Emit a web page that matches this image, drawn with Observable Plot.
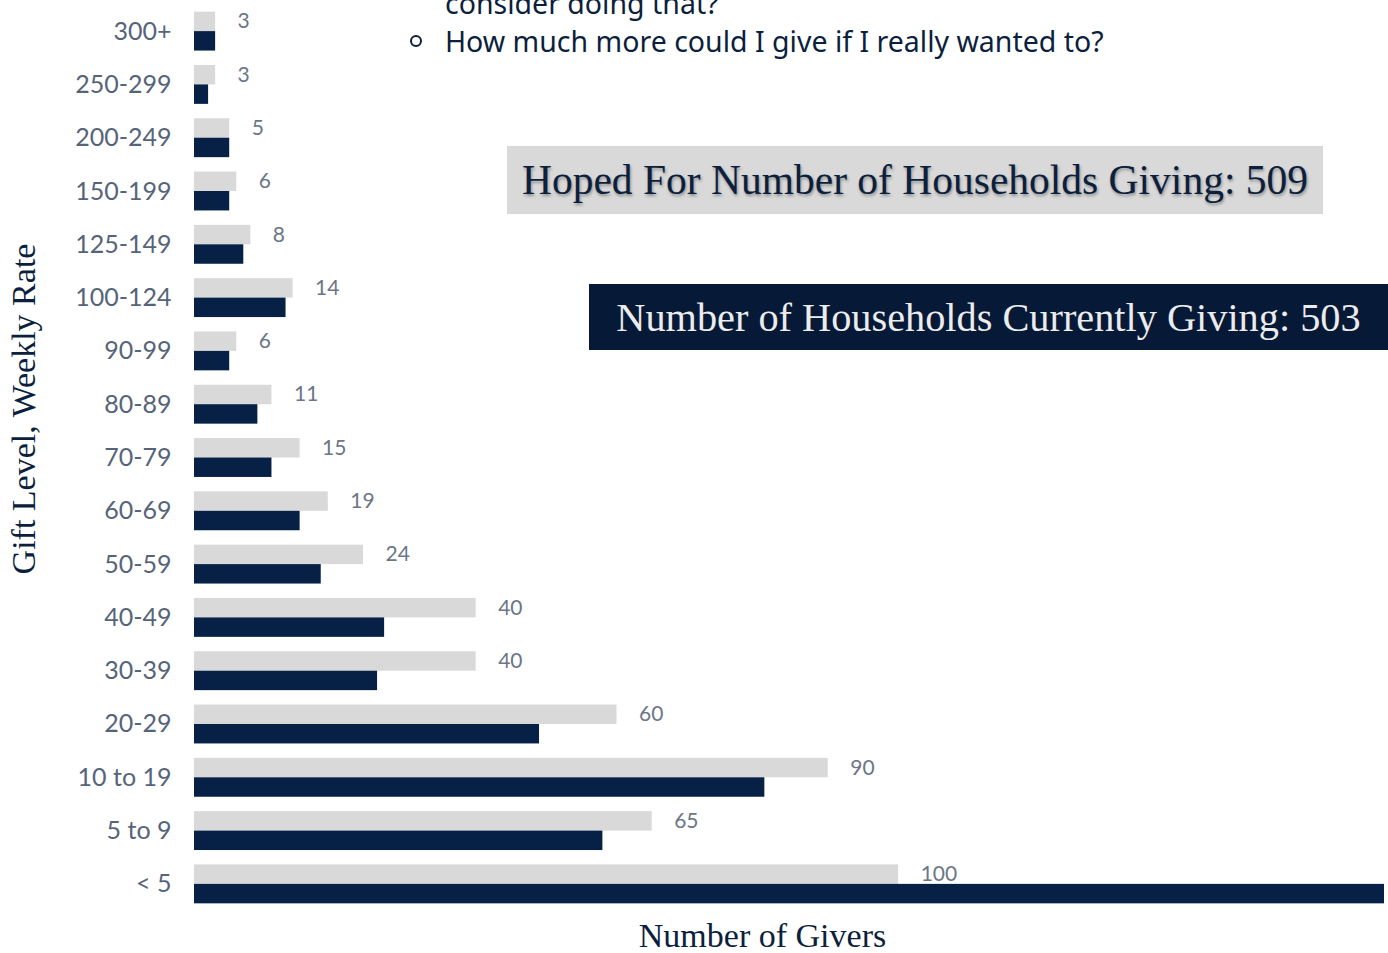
<!DOCTYPE html>
<html>
<head>
<meta charset="utf-8">
<script src="https://cdn.jsdelivr.net/npm/d3@7"></script>
<script src="https://cdn.jsdelivr.net/npm/@observablehq/plot@0.6"></script>
<style>
  html, body { margin: 0; padding: 0; background: #fff; overflow: hidden; }
  #wrap { position: relative; width: 1388px; height: 953px; overflow: hidden; background: #fff; }
  #chart { position: absolute; left: 0; top: 0; }
  .note { position: absolute; font-family: "Noto Sans", sans-serif; font-size: 28.5px; line-height: 1;
          color: #0c1f3d; white-space: nowrap; }
  .bullet { position: absolute; width: 8px; height: 8px; border: 2px solid #0c1f3d; border-radius: 50%; }
  .box { position: absolute; display: flex; align-items: center; justify-content: center;
         font-family: "Liberation Serif", serif; white-space: nowrap; }
  #hoped { left: 507px; top: 146px; width: 816px; height: 68px; background: #d9d9d9; color: #0c1f3d;
           font-size: 41.5px; text-shadow: 1px 2px 3px rgba(0,0,0,0.35); }
  #current { left: 589px; top: 284px; width: 799px; height: 66px; background: #061a38; color: #ececec;
             font-size: 40.3px; }
</style>
</head>
<body>
<div id="wrap">
  <div id="chart"></div>
  <div class="note" style="left:445px; top:-11px;">consider doing that?</div>
  <div class="bullet" style="left:410px; top:35px;"></div>
  <div class="note" style="left:445px; top:27px;">How much more could I give if I really wanted to?</div>
  <div class="box" id="hoped">Hoped For Number of Households Giving: 509</div>
  <div class="box" id="current">Number of Households Currently Giving: 503</div>
</div>
<script>
const categories = ["300+", "250-299", "200-249", "150-199", "125-149", "100-124", "90-99", "80-89",
  "70-79", "60-69", "50-59", "40-49", "30-39", "20-29", "10 to 19", "5 to 9", "< 5"];
const hoped = [3, 3, 5, 6, 8, 14, 6, 11, 15, 19, 24, 40, 40, 60, 90, 65, 100];
const current = [3, 2, 5, 5, 7, 13, 5, 9, 11, 15, 18, 27, 26, 49, 81, 58, 169];
const yTitle = "Gift Level, Weekly Rate";
const xTitle = "Number of Givers";

const rows = categories.map((c, i) => ({category: c, hoped: hoped[i], current: current[i]}));

const navy = "#072146";
const gray = "#d9d9d9";
const serif = "'Liberation Serif', serif";
const half = 19.45;

const chart = Plot.plot({
  width: 1388,
  height: 953,
  marginLeft: 194,
  marginRight: 4,
  marginTop: 1,
  marginBottom: 39,
  style: {background: "transparent", fontFamily: "Lato, sans-serif"},
  x: {domain: [0, d3.max(current)], axis: null},
  y: {domain: categories, paddingInner: 0.27, paddingOuter: 0.2, round: false, axis: null},
  marks: [
    Plot.barX(rows, {y: "category", x: "hoped", fill: gray, insetBottom: half}),
    Plot.barX(rows, {y: "category", x: "current", fill: navy, insetTop: half}),
    Plot.text(rows, {y: "category", x: "hoped", text: d => String(d.hoped), dx: 22, dy: -10,
      textAnchor: "start", fontSize: 21, fill: "#6b7686"}),
    Plot.axisY({tickSize: 0, tickPadding: 23, fontSize: 25, color: "#56647a", label: null}),
    Plot.text([yTitle], {frameAnchor: "left", textAnchor: "middle", lineAnchor: "middle", rotate: -90,
      dx: -170, dy: -49, fontSize: 34, fontFamily: serif, fill: "#0c1f3d"}),
    Plot.text([xTitle], {frameAnchor: "bottom", textAnchor: "middle", lineAnchor: "middle",
      dx: -27, dy: 22, fontSize: 34, fontFamily: serif, fill: "#0c1f3d"})
  ]
});
document.getElementById("chart").appendChild(chart);
</script>
</body>
</html>
